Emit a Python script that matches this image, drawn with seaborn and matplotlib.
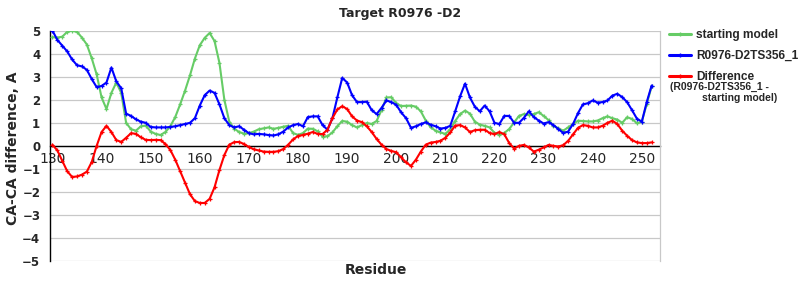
import numpy as np
import pandas as pd
import matplotlib
matplotlib.use("Agg")
import matplotlib.pyplot as plt
from matplotlib.lines import Line2D
import seaborn as sns

residues = list(range(130, 253))

starting_model = [
    4.72, 4.70, 4.74, 4.95, 5.00, 4.95, 4.70, 4.40, 3.80, 3.10,
    2.10, 1.60, 2.30, 2.75, 2.30, 1.00, 0.72, 0.66, 0.85, 0.88,
    0.62, 0.52, 0.47, 0.60, 0.85, 1.25, 1.80, 2.40, 3.06, 3.79,
    4.37, 4.69, 4.90, 4.55, 3.60, 2.00, 1.05, 0.75, 0.60, 0.53,
    0.55, 0.62, 0.72, 0.76, 0.80, 0.74, 0.78, 0.83, 0.87, 0.55,
    0.48, 0.55, 0.75, 0.74, 0.63, 0.40, 0.42, 0.58, 0.85, 1.08,
    1.05, 0.90, 0.80, 0.90, 0.99, 0.95, 1.08, 1.55, 2.10, 2.11,
    1.85, 1.73, 1.74, 1.75, 1.70, 1.50, 1.10, 0.80, 0.66, 0.58,
    0.52, 0.72, 1.08, 1.38, 1.53, 1.40, 1.05, 0.92, 0.87, 0.80,
    0.57, 0.48, 0.56, 0.73, 1.02, 1.30, 1.38, 1.34, 1.38, 1.46,
    1.30, 1.12, 0.88, 0.76, 0.66, 0.80, 0.95, 1.09, 1.08, 1.06,
    1.06, 1.10, 1.20, 1.28, 1.20, 1.14, 1.00, 1.24, 1.17, 0.98,
    1.05, 1.82, 2.58,
]

model_ts356 = [
    5.00, 4.60, 4.35, 4.10, 3.75, 3.50, 3.45, 3.30, 2.90, 2.55,
    2.60, 2.75, 3.40, 2.80, 2.50, 1.40, 1.30, 1.15, 1.05, 1.00,
    0.82, 0.80, 0.80, 0.80, 0.82, 0.85, 0.90, 0.95, 1.00, 1.20,
    1.75, 2.20, 2.40, 2.30, 1.80, 1.20, 0.90, 0.80, 0.85, 0.70,
    0.55, 0.50, 0.52, 0.50, 0.47, 0.45, 0.50, 0.62, 0.80, 0.90,
    0.95, 0.85, 1.25, 1.28, 1.28, 0.90, 0.70, 1.20, 2.10, 2.95,
    2.75, 2.20, 1.90, 1.90, 1.92, 1.55, 1.38, 1.65, 1.97, 1.90,
    1.78, 1.45, 1.20, 0.78, 0.85, 0.95, 1.02, 0.92, 0.85, 0.75,
    0.78, 0.87, 1.50, 2.15, 2.70, 2.10, 1.70, 1.50, 1.75, 1.50,
    1.00, 0.95, 1.30, 1.30, 1.00, 1.00, 1.22, 1.50, 1.25, 1.10,
    0.97, 1.03, 0.90, 0.73, 0.56, 0.62, 0.95, 1.42, 1.80, 1.85,
    1.97, 1.88, 1.90, 1.97, 2.18, 2.26, 2.12, 1.90, 1.55, 1.18,
    1.05, 1.90, 2.62,
]

difference = [
    0.05, -0.20, -0.65, -1.10, -1.35, -1.33, -1.25, -1.12, -0.70, 0.00,
    0.60, 0.87, 0.60, 0.25, 0.17, 0.35, 0.55, 0.52, 0.37, 0.26,
    0.25, 0.26, 0.25, 0.08, -0.18, -0.60, -1.10, -1.60, -2.10, -2.40,
    -2.48, -2.48, -2.30, -1.80, -1.05, -0.40, 0.05, 0.16, 0.17, 0.08,
    -0.05, -0.15, -0.20, -0.25, -0.26, -0.26, -0.23, -0.14, 0.05, 0.28,
    0.43, 0.47, 0.53, 0.60, 0.52, 0.51, 0.70, 1.20, 1.58, 1.72,
    1.60, 1.28, 1.10, 1.03, 0.85, 0.60, 0.30, 0.05, -0.14, -0.22,
    -0.28, -0.50, -0.72, -0.87, -0.60, -0.25, 0.05, 0.14, 0.17, 0.22,
    0.35, 0.58, 0.88, 0.90, 0.80, 0.60, 0.68, 0.70, 0.70, 0.56,
    0.51, 0.60, 0.50, 0.12, -0.12, 0.00, 0.04, -0.07, -0.25, -0.17,
    -0.07, 0.04, 0.00, -0.03, 0.03, 0.22, 0.50, 0.78, 0.90, 0.87,
    0.80, 0.80, 0.87, 1.00, 1.09, 0.95, 0.66, 0.44, 0.25, 0.15,
    0.12, 0.12, 0.15,
]

series_labels = ["starting model", "R0976-D2TS356_1", "Difference"]
series_colors = ["#66cc66", "#0000ff", "#ff0000"]
x_ticks = list(range(130, 251, 10))
y_ticks = list(range(-5, 6))

sns.set_style("white")
plt.rcParams["font.family"] = ["DejaVu Sans"]

fig = plt.figure(figsize=(8, 3), dpi=100)
ax = fig.add_axes([0.0625, 0.13, 0.7625, 0.7677])

for vals, lab, col in zip([starting_model, model_ts356, difference], series_labels, series_colors):
    sns.lineplot(x=residues, y=vals, ax=ax, color=col, linewidth=1.5,
                 marker="+", markersize=3, markeredgewidth=0.9,
                 markeredgecolor=col, legend=False, zorder=3)

ax.set_xlim(129.5, 253.7)
ax.set_ylim(-5, 5)
ax.set_yticks(y_ticks)
ax.set_xticks(x_ticks)
ax.set_xticklabels([str(t) for t in x_ticks], fontsize=9, fontweight="bold")
ax.set_yticklabels([("\u2212" + str(-t)) if t < 0 else str(t) for t in y_ticks],
                   fontsize=8.5, fontweight="bold")
ax.yaxis.grid(True, color="#c8c8c8", linewidth=0.9)
ax.xaxis.grid(False)
ax.set_axisbelow(True)

ax.spines["bottom"].set_position(("data", 0))
ax.spines["bottom"].set_color("black")
ax.spines["bottom"].set_linewidth(1.0)
ax.spines["bottom"].set_zorder(2)
ax.spines["left"].set_color("black")
ax.spines["left"].set_linewidth(1.0)
ax.spines["top"].set_visible(False)
ax.spines["right"].set_color("#c8c8c8")
ax.spines["right"].set_linewidth(0.9)

ax.tick_params(axis="x", direction="out", length=3, color="#999999", pad=1.5)
ax.tick_params(axis="y", length=0, pad=7)
ax.set_xlabel("")
ax.set_ylabel("")

fig.text(0.5, 0.955, "Target R0976 -D2", ha="center", va="center",
         fontsize=9, fontweight="bold")
fig.text(0.47, 0.1, "Residue", ha="center", va="center",
         fontsize=10, fontweight="bold")
fig.text(0.0165, 0.505, "CA-CA difference, A", ha="center", va="center",
         rotation=90, fontsize=10, fontweight="bold")

handles = [Line2D([], [], color=c, linewidth=2.2, marker="+", markersize=3)
           for c in series_colors]
fig.legend(handles, series_labels, loc="upper left",
           bbox_to_anchor=(669 / 800, 1 - 29 / 300), frameon=False,
           prop={"family": "Liberation Sans", "size": 8.6, "weight": "bold"},
           handlelength=1.8, handletextpad=0.45, labelspacing=0.75,
           borderpad=0, borderaxespad=0)
fig.text(670 / 800, 1 - 87 / 300, "(R0976-D2TS356_1 -", ha="left", va="center",
         fontsize=7.5, fontweight="bold", family="Liberation Sans")
fig.text(702 / 800, 1 - 98 / 300, "starting model)", ha="left", va="center",
         fontsize=7.5, fontweight="bold", family="Liberation Sans")

fig.savefig("out.png", dpi=100)
